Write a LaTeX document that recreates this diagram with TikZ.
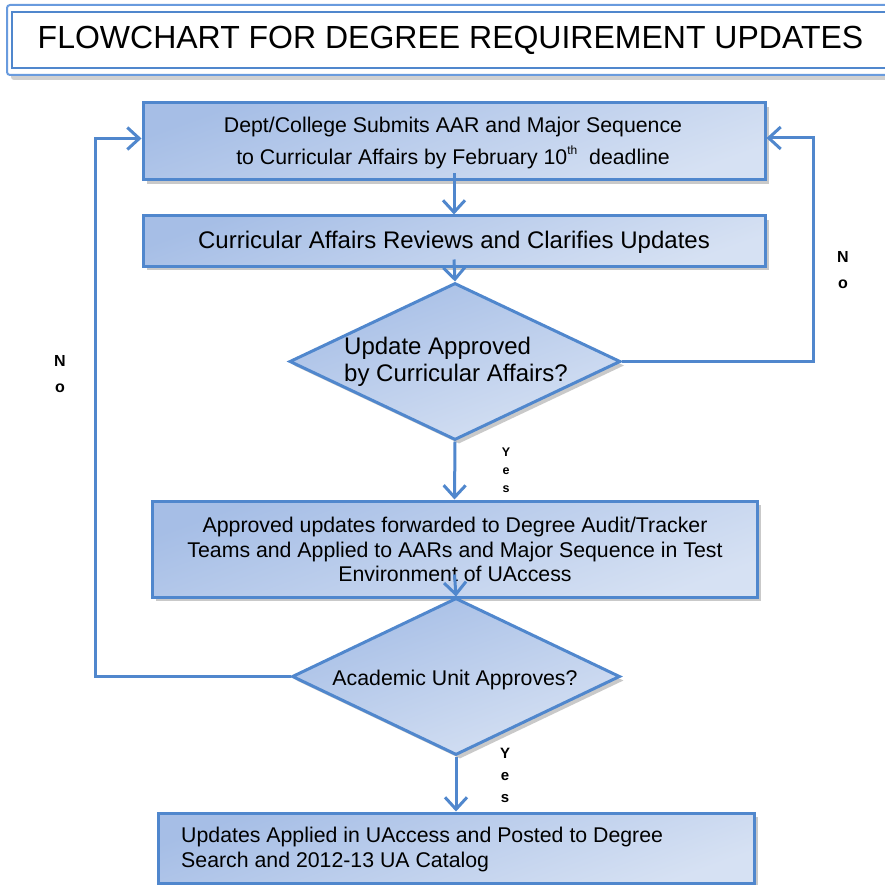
\documentclass[tikz,border=0pt]{standalone}
\usepackage{fontspec}
\setmainfont{Liberation Sans}
\usetikzlibrary{shapes.geometric,shadows,arrows.meta}
\definecolor{bc}{RGB}{80,135,205}
\definecolor{bcl}{RGB}{105,155,222}
\definecolor{ftop}{RGB}{166,190,230}
\definecolor{fbot}{RGB}{214,225,243}
\tikzset{
  box/.style={draw=bc, line width=3pt, top color=ftop, bottom color=fbot, shading angle=20,
    rectangle, inner sep=0pt,
    drop shadow={opacity=0.35, shadow xshift=4pt, shadow yshift=-4pt, fill=black!60}},
  dia/.style={box, diamond, inner sep=0pt},
  txt/.style={inner sep=0pt, font=\fontsize{21.3}{24.5}\selectfont, align=center},
  arr/.style={draw=bc, line width=3pt, -{Straight Barb[length=12pt,width=22pt,line width=3pt]}},
  yn/.style={inner sep=0pt, font=\bfseries\fontsize{16}{26}\selectfont, align=center},
}
\begin{document}
\begin{tikzpicture}[x=1pt,y=-1pt]
\useasboundingbox (0,0) rectangle (885,885);
\fill[white] (0,0) rectangle (885,885);
% title
\draw[bcl, line width=2pt, fill=white, rounded corners=3pt,
  drop shadow={opacity=0.3, shadow xshift=4pt, shadow yshift=-5pt, fill=black!60}] (7,5) rectangle (895,75);
\draw[bc, line width=2.5pt] (12,12) rectangle (895,68);
\node[inner sep=0pt, font=\fontsize{32}{32}\selectfont] (title) at (450.5,40) {FLOWCHART FOR DEGREE REQUIREMENT UPDATES};
% boxes
\node[box, minimum width=622pt, minimum height=77pt] (b1) at (454,141.5) {};
\node[txt] (t1) at (453,143) {Dept/College Submits AAR and Major Sequence\\[8pt]to Curricular Affairs by February 10\raisebox{10pt}{\fontsize{12}{12}\selectfont th}\ \ deadline};
\node[box, minimum width=622pt, minimum height=50pt] (b2) at (454,241) {};
\node[txt, font=\fontsize{24}{27}\selectfont] (t2) at (454,242) {Curricular Affairs Reviews and Clarifies Updates};
\node[dia, minimum width=331pt, minimum height=157pt] (d1) at (455,361.5) {};
\node[txt, align=left, anchor=west, font=\fontsize{24}{27}\selectfont] (t3) at (344,362) {Update Approved\\by Curricular Affairs?};
\node[box, minimum width=605pt, minimum height=96pt] (b3) at (454.5,549) {};
\node[txt] (t4) at (455,549.5) {Approved updates forwarded to Degree Audit/Tracker\\Teams and Applied to AARs and Major Sequence in Test\\Environment of UAccess};
\node[dia, minimum width=328pt, minimum height=157pt] (d2) at (456,676.5) {};
\node[txt] (t5) at (455,680) {Academic Unit Approves?};
\node[box, minimum width=596pt, minimum height=70pt] (b4) at (456,848) {};
\node[txt, align=left, anchor=west] (t6) at (181,849.5) {Updates Applied in UAccess and Posted to Degree\\Search and 2012-13 UA Catalog};
% connectors
\coordinate (cR) at (813,361.5);
\coordinate (cL) at (95,676.5);
\draw[arr] ([yshift=8pt]b1.south) -- (b2.north);
\draw[arr] ([yshift=8pt]b2.south) -- (d1.north);
\draw[arr] (d1.south) -- (b3.north);
\draw[arr] ([yshift=24pt]b3.south) -- (d2.north);
\draw[arr] (d2.south) -- (b4.north);
\draw[arr] (d1.east) -- (cR) |- ([yshift=3.5pt]b1.east);
\draw[arr] (d2.west) -- (cL) |- ([yshift=3pt]b1.west);
% labels
\node[yn] (no1) at (843,270.5) {N\\o};
\node[yn] (no2) at (60,374) {N\\o};
\node[yn, font=\bfseries\fontsize{12.5}{18}\selectfont] (yes1) at (506,470) {Y\\e\\s};
\node[yn, font=\bfseries\fontsize{15}{22}\selectfont] (yes2) at (505,775) {Y\\e\\s};
\end{tikzpicture}
\end{document}
